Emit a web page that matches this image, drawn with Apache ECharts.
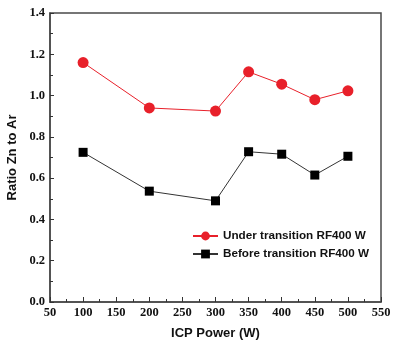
<!DOCTYPE html>
<html>
<head>
<meta charset="utf-8">
<script src="https://cdn.jsdelivr.net/npm/echarts@6/dist/echarts.min.js"></script>
<style>
  html, body { margin: 0; padding: 0; background: #fff; }
  #chart { width: 400px; height: 346px; }
</style>
</head>
<body>
<div id="chart"></div>
<script>
// ICP power settings (W)
var icpPower = [100, 200, 300, 350, 400, 450, 500];
// Zn/Ar emission ratio for each condition
var underTransition = [1.16, 0.94, 0.925, 1.115, 1.055, 0.98, 1.023];
var beforeTransition = [0.725, 0.537, 0.49, 0.728, 0.716, 0.615, 0.706];
var seriesNames = ['Under transition RF400 W', 'Before transition RF400 W'];

function pairs(xs, ys) {
  return xs.map(function (x, i) { return [x, ys[i]]; });
}

var tickFont = { fontFamily: 'Liberation Serif', fontWeight: 'bold', fontSize: 12.5, color: '#111' };
var axisLineStyle = { color: '#4a4a4a', width: 1.5 };

var chart = echarts.init(document.getElementById('chart'), null, { renderer: 'canvas' });
chart.setOption({
  animation: false,
  grid: {
    left: 50, right: 19, top: 13, bottom: 44,
    outerBoundsMode: 'none', containLabel: false,
    show: true, borderColor: '#4a4a4a', borderWidth: 1.5, backgroundColor: 'transparent'
  },
  legend: {
    orient: 'vertical',
    left: 187, top: 225,
    itemWidth: 25, itemHeight: 11, itemGap: 6,
    textStyle: { fontFamily: 'Liberation Sans', fontWeight: 'bold', fontSize: 11.7, color: '#111' },
    data: seriesNames
  },
  xAxis: {
    type: 'value', min: 50, max: 550, interval: 50,
    name: 'ICP Power (W)', nameLocation: 'middle', nameGap: 25,
    nameTextStyle: { fontFamily: 'Liberation Sans', fontWeight: 'bold', fontSize: 13, color: '#111' },
    axisLine: { show: true, lineStyle: axisLineStyle },
    axisTick: { show: true, inside: true, length: 5, lineStyle: { color: '#333', width: 1 } },
    minorTick: { show: true, splitNumber: 2, length: 3, lineStyle: { color: '#333', width: 1 } },
    axisLabel: Object.assign({ margin: 4 }, tickFont),
    splitLine: { show: false }
  },
  yAxis: {
    type: 'value', min: 0, max: 1.4, interval: 0.2,
    name: 'Ratio Zn to Ar', nameLocation: 'middle', nameGap: 29,
    nameTextStyle: { fontFamily: 'Liberation Sans', fontWeight: 'bold', fontSize: 13, color: '#111' },
    axisLine: { show: true, lineStyle: axisLineStyle },
    axisTick: { show: true, inside: true, length: 4, lineStyle: { color: '#333', width: 1 } },
    minorTick: { show: true, splitNumber: 2, length: 3, lineStyle: { color: '#333', width: 1 } },
    axisLabel: Object.assign({ margin: 5, formatter: function (v) { return v.toFixed(1); } }, tickFont),
    splitLine: { show: false }
  },
  series: [
    {
      name: seriesNames[0], type: 'line',
      data: pairs(icpPower, underTransition),
      symbol: 'circle', symbolSize: 11,
      itemStyle: { color: '#e8202a' },
      lineStyle: { color: '#e8202a', width: 1 }
    },
    {
      name: seriesNames[1], type: 'line',
      data: pairs(icpPower, beforeTransition),
      symbol: 'rect', symbolSize: 9,
      itemStyle: { color: '#000' },
      lineStyle: { color: '#333', width: 1 }
    }
  ]
});
</script>
</body>
</html>
